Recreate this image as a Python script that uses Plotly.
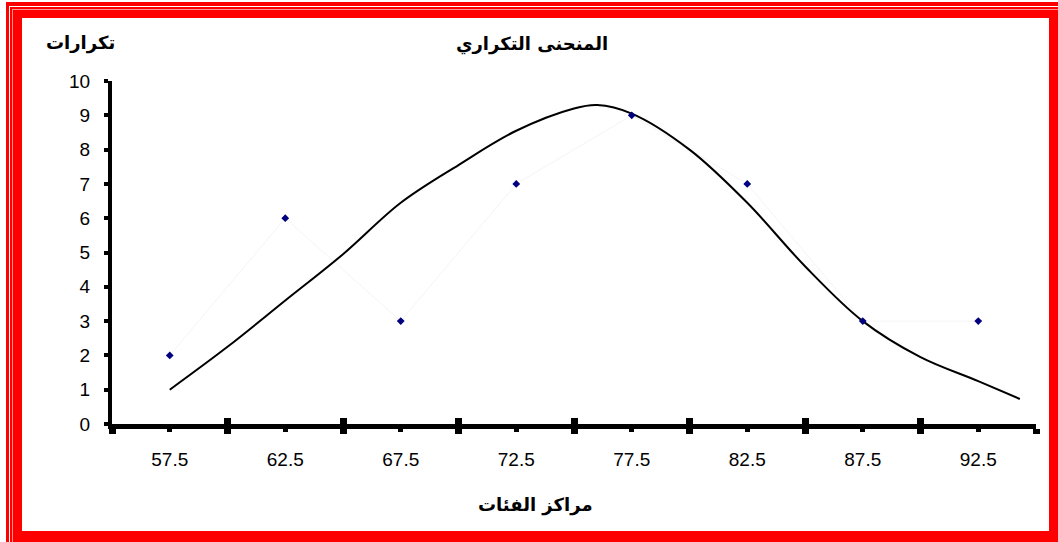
import plotly.graph_objects as go

# ---- data ----
class_centers = [57.5, 62.5, 67.5, 72.5, 77.5, 82.5, 87.5, 92.5]
frequencies = [2, 6, 3, 7, 9, 7, 3, 3]
tick_labels = ["57.5", "62.5", "67.5", "72.5", "77.5", "82.5", "87.5", "92.5"]
class_bounds = [55, 60, 65, 70, 75, 80, 85, 90, 95]

curve_x = [57.5, 60, 62.5, 65, 67.5, 70, 72.5, 75, 76, 77.5, 80, 82.5, 85, 87.5, 90, 92.5, 94.3]
curve_y = [1.0, 2.25, 3.6, 4.95, 6.45, 7.55, 8.55, 9.2, 9.3, 9.05, 8.0, 6.45, 4.6, 3.0, 1.95, 1.25, 0.73]

title_text = "المنحنى التكراري"
y_title = "تكرارات"
x_title = "مراكز الفئات"

W, H = 1058, 542
L, R, T, B = 112, 22, 81, 118
PW, PH = W - L - R, H - T - B


def px(x):
    return (x - L) / PW


def py(y):
    return 1 - (y - T) / PH


fig = go.Figure()

# faint connecting line (as in original)
fig.add_trace(go.Scatter(x=class_centers, y=frequencies, mode="lines",
                         line=dict(color="#f4f4f4", width=1), hoverinfo="skip", showlegend=False))
# smooth frequency curve
fig.add_trace(go.Scatter(x=curve_x, y=curve_y, mode="lines",
                         line=dict(color="black", width=2, shape="spline", smoothing=1.0),
                         showlegend=False))
# points
fig.add_trace(go.Scatter(x=class_centers, y=frequencies, mode="markers",
                         marker=dict(symbol="diamond", size=6, color="#000080"),
                         showlegend=False))
# invisible trace for overlay axis
fig.add_trace(go.Scatter(x=[class_bounds[0]], y=[0], xaxis="x2", mode="markers",
                         marker=dict(opacity=0), hoverinfo="skip", showlegend=False))

shapes = []
red = "#ff0000"


def rect(x0, y0, x1, y1, color):
    shapes.append(dict(type="rect", xref="paper", yref="paper",
                       x0=px(x0), x1=px(x1), y0=py(y1), y1=py(y0),
                       fillcolor=color, line=dict(width=0), layer="above"))


rect(6, 2, 1058, 18, red)
rect(6, 2, 22, 542, red)
rect(1049, 2, 1058, 542, red)
rect(6, 531, 1058, 542, red)
rect(9, 6, 1058, 7, "#ffffff")
rect(9, 6, 10, 542, "#ffffff")
rect(12, 9, 1058, 10, "#ff9090")
rect(12, 9, 13, 542, "#ff9090")

annotations = [
    dict(text="<b>" + title_text + "</b>", x=px(532), y=py(44), xref="paper", yref="paper",
         showarrow=False, xanchor="center", yanchor="middle",
         font=dict(family="DejaVu Sans", size=18, color="black")),
    dict(text="<b>" + y_title + "</b>", x=px(80), y=py(43), xref="paper", yref="paper",
         showarrow=False, xanchor="center", yanchor="middle",
         font=dict(family="DejaVu Sans", size=18, color="black")),
    dict(text="<b>" + x_title + "</b>", x=px(535), y=py(505), xref="paper", yref="paper",
         showarrow=False, xanchor="center", yanchor="middle",
         font=dict(family="DejaVu Sans", size=18, color="black")),
]

tickfont = dict(family="Liberation Sans", size=19, color="black")

fig.update_layout(
    width=W, height=H,
    margin=dict(l=L, r=R, t=T, b=B, pad=0, autoexpand=False),
    paper_bgcolor="white", plot_bgcolor="white",
    showlegend=False,
    shapes=shapes,
    annotations=annotations,
    xaxis=dict(range=[55, 95], showgrid=False, zeroline=False,
               showline=True, linecolor="black", linewidth=5,
               tickmode="array", tickvals=class_centers, ticktext=tick_labels,
               ticks="outside", ticklen=3, tickwidth=5, tickcolor="black",
               tickfont=tickfont, ticklabelstandoff=11,
               minor=dict(tickmode="array", tickvals=class_bounds, ticks="outside",
                          ticklen=5, tickwidth=7, tickcolor="black")),
    xaxis2=dict(range=[55, 95], overlaying="x", anchor="y", side="bottom",
                showgrid=False, zeroline=False, showline=False,
                tickmode="array", tickvals=class_bounds, showticklabels=False,
                ticks="inside", ticklen=6, tickwidth=7, tickcolor="black"),
    yaxis=dict(range=[0, 10], showgrid=False, zeroline=False,
               showline=True, linecolor="black", linewidth=4,
               tickmode="array", tickvals=list(range(0, 11)),
               ticks="outside", ticklen=4, tickwidth=4, tickcolor="black",
               tickfont=tickfont, ticklabelstandoff=10),
)

fig.write_html("out.html", config={"displayModeBar": False},
               post_script="document.body.style.margin='0';")
